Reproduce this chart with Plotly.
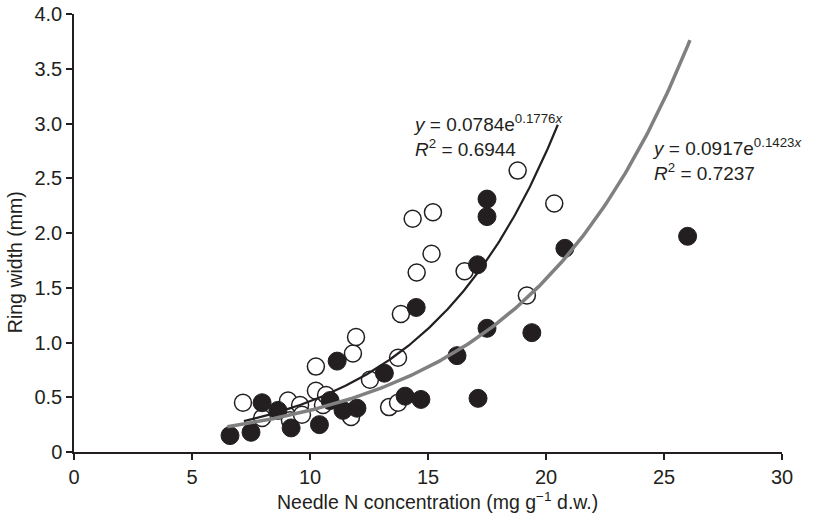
import numpy as np
import plotly.graph_objects as go

# Open circles (series 1)
open_x = [7.16, 7.97, 9.07, 9.15, 9.58, 9.66, 10.25, 10.25, 10.55, 10.68, 11.74, 11.82, 11.95,
          12.54, 13.35, 13.73, 13.73, 13.85, 14.35, 14.52, 15.15, 15.21, 16.55, 18.8, 19.19, 20.35]
open_y = [0.45, 0.31, 0.47, 0.29, 0.43, 0.34, 0.78, 0.56, 0.43, 0.52, 0.32, 0.90, 1.05,
          0.66, 0.41, 0.45, 0.86, 1.26, 2.13, 1.64, 1.81, 2.19, 1.65, 2.57, 1.43, 2.27]

# Filled circles (series 2)
filled_x = [6.61, 7.5, 7.97, 8.64, 9.2, 10.4, 10.85, 11.15, 11.4, 11.99, 13.15, 14.03, 14.5,
            14.7, 16.23, 17.1, 17.12, 17.5, 17.5, 17.5, 19.4, 20.8, 26.0]
filled_y = [0.15, 0.18, 0.45, 0.38, 0.22, 0.25, 0.47, 0.83, 0.38, 0.40, 0.72, 0.51, 1.32,
            0.48, 0.88, 1.71, 0.49, 2.31, 2.15, 1.13, 1.09, 1.86, 1.97]

# Fitted curves: y = a * exp(b x)
fit1 = dict(a=0.0784, b=0.1776, x0=7.2, x1=20.5)
fit2 = dict(a=0.0917, b=0.1423, x0=6.5, x1=26.1)

x_ticks = [0, 5, 10, 15, 20, 25, 30]
y_ticks = [0, 0.5, 1.0, 1.5, 2.0, 2.5, 3.0, 3.5, 4.0]
y_tick_text = ["0", "0.5", "1.0", "1.5", "2.0", "2.5", "3.0", "3.5", "4.0"]

FONT = "Liberation Sans, Arial, Helvetica, sans-serif"
INK = "#231f20"

fig = go.Figure()

fig.add_trace(go.Scatter(x=open_x, y=open_y, mode="markers",
                         marker=dict(size=17, color="white", line=dict(color=INK, width=1.5)),
                         showlegend=False))
fig.add_trace(go.Scatter(x=filled_x, y=filled_y, mode="markers",
                         marker=dict(size=18, color=INK, line=dict(color=INK, width=1)),
                         showlegend=False))

xs1 = np.linspace(fit1["x0"], fit1["x1"], 200)
fig.add_trace(go.Scatter(x=xs1, y=fit1["a"] * np.exp(fit1["b"] * xs1), mode="lines",
                         line=dict(color=INK, width=2.2), showlegend=False))
xs2 = np.linspace(fit2["x0"], fit2["x1"], 200)
fig.add_trace(go.Scatter(x=xs2, y=fit2["a"] * np.exp(fit2["b"] * xs2), mode="lines",
                         line=dict(color="#808080", width=3.5), showlegend=False))

fig.add_annotation(x=14.3, y=3.13, xanchor="left", yanchor="top", showarrow=False, align="left",
                   text="<i>y</i> = 0.0784e<sup>0.1776<i>x</i></sup><br><i>R</i><sup>2</sup> = 0.6944",
                   font=dict(family=FONT, size=19, color=INK))
fig.add_annotation(x=24.4, y=2.91, xanchor="left", yanchor="top", showarrow=False, align="left",
                   text="<i>y</i> = 0.0917e<sup>0.1423<i>x</i></sup><br><i>R</i><sup>2</sup> = 0.7237",
                   font=dict(family=FONT, size=19, color=INK))

# axis titles placed as in the reference
fig.add_annotation(xref="paper", yref="paper", x=0.514, y=-0.113, xanchor="center", yanchor="middle",
                   showarrow=False, text="Needle N concentration (mg g<sup>\u22121</sup> d.w.)",
                   font=dict(family=FONT, size=19.5, color=INK))
fig.add_annotation(xref="paper", yref="paper", x=-0.083, y=0.434, xanchor="center", yanchor="middle",
                   showarrow=False, textangle=-90, text="Ring width (mm)",
                   font=dict(family=FONT, size=19.5, color=INK))

fig.update_layout(
    width=813, height=519,
    margin=dict(l=74, r=31, t=14, b=67, autoexpand=False),
    paper_bgcolor="white", plot_bgcolor="white",
    font=dict(family=FONT, size=20, color=INK),
    xaxis=dict(range=[0, 30], tickvals=x_ticks, showgrid=False, zeroline=False,
               showline=True, linecolor=INK, linewidth=1.5, ticks="outside",
               ticklen=6, tickcolor=INK, tickwidth=1.5, automargin=False,
               tickfont=dict(size=20)),
    yaxis=dict(range=[0, 4], tickvals=y_ticks, ticktext=y_tick_text, showgrid=False,
               zeroline=False, showline=True, linecolor=INK, linewidth=1.5,
               ticks="outside", ticklen=6, tickcolor=INK, tickwidth=1.5, automargin=False,
               tickfont=dict(size=20)),
)

fig.write_html("out.html", config={"displayModeBar": False},
               post_script="document.body.style.margin='0px';")
